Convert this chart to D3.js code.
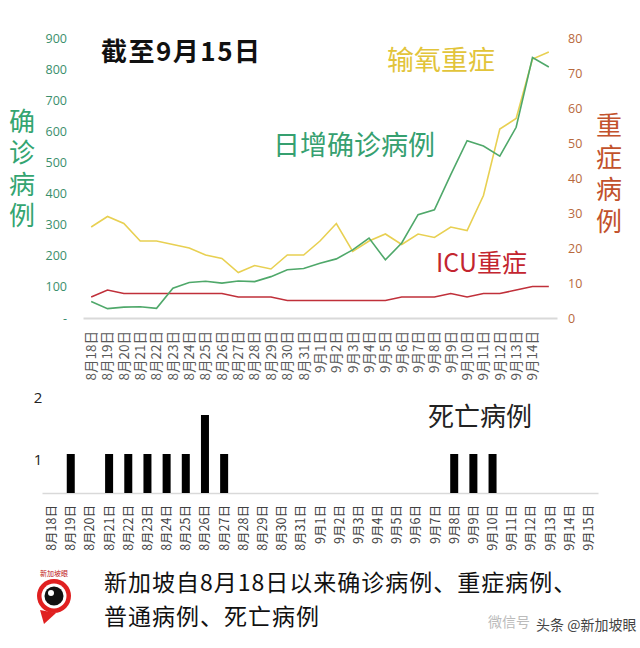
<!DOCTYPE html>
<html>
<head>
<meta charset="utf-8">
<script src="https://cdn.jsdelivr.net/npm/d3@7"></script>
<style>
body{margin:0;background:#fff;}
svg{display:block;}
</style>
</head>
<body>
<script>
var width=640;
var height=648;
var cjk="'Noto Sans CJK SC','Noto Sans',sans-serif";

// dates 8/18 .. 9/15
var dates=["8月18日","8月19日","8月20日","8月21日","8月22日","8月23日","8月24日","8月25日","8月26日","8月27日",
"8月28日","8月29日","8月30日","8月31日","9月1日","9月2日","9月3日","9月4日","9月5日","9月6日",
"9月7日","9月8日","9月9日","9月10日","9月11日","9月12日","9月13日","9月14日","9月15日"];
// daily new cases (left axis)
var confirmed=[53,30,35,36,31,96,114,118,112,119,117,133,155,159,176,190,219,257,187,241,332,348,461,570,553,520,613,837,807];
// needing oxygen (right axis)
var oxygen=[26,29,27,22,22,21,20,18,17,13,15,14,18,18,22,27,19,22,24,21,24,23,26,25,35,54,57,74,76];
// ICU (right axis)
var icu=[6,8,7,7,7,7,7,7,7,6,6,6,5,5,5,5,5,5,5,6,6,6,7,6,7,7,8,9,9];
// deaths
var deaths=[0,1,0,1,1,1,1,1,2,1,0,0,0,0,0,0,0,0,0,0,0,1,1,1,0,0,0,0,0];

var leftTicks=[0,100,200,300,400,500,600,700,800,900];
var rightTicks=[0,10,20,30,40,50,60,70,80];
var deathTicks=[1,2];
var topLabels=dates.slice(0,28);
var footer=["新加坡自8月18日以来确诊病例、重症病例、","普通病例、死亡病例"];

var svg=d3.select("body").append("svg").attr("width",width).attr("height",height);
svg.append("rect").attr("width",width).attr("height",height).attr("fill","#fff");

/* ---------- top chart ---------- */
var x=d3.scaleBand().domain(dates).range([83,557]);
var yL=d3.scaleLinear().domain([0,900]).range([318,38]);
var yR=d3.scaleLinear().domain([0,80]).range([318,38]);
function cx(d,i){return x(dates[i])+x.bandwidth()/2;}

var xAxis=svg.append("g").attr("transform","translate(0,318)")
    .call(d3.axisBottom(x).tickValues(topLabels).tickSize(0).tickSizeOuter(0));
xAxis.select(".domain").attr("stroke","#d9d9d9").attr("stroke-width",2);
xAxis.selectAll("text")
    .attr("transform","rotate(-90)")
    .attr("x",-13).attr("y",0).attr("dy","0.36em")
    .attr("text-anchor","end")
    .attr("font-family",cjk).attr("font-size","13.5px").attr("fill","#595959");

var lAxis=svg.append("g").attr("transform","translate(67,0)")
    .call(d3.axisLeft(yL).tickValues(leftTicks).tickSize(0).tickPadding(0)
        .tickFormat(function(d){return d===0?"-  ":d;}));
lAxis.select(".domain").remove();
lAxis.selectAll("text").attr("font-family","'Open Sans','Noto Sans',sans-serif")
    .attr("font-size","12.5px").attr("fill","#3a8f6c");

var rAxis=svg.append("g").attr("transform","translate(568,0)")
    .call(d3.axisRight(yR).tickValues(rightTicks).tickSize(0).tickPadding(0));
rAxis.select(".domain").remove();
rAxis.selectAll("text").attr("font-family","'Open Sans','Noto Sans',sans-serif")
    .attr("font-size","12.5px").attr("fill","#b8693d");

var lineL=d3.line().x(cx).y(function(d){return yL(d);});
var lineR=d3.line().x(cx).y(function(d){return yR(d);});

svg.append("path").datum(icu).attr("d",lineR).attr("fill","none")
    .attr("stroke","#c0303a").attr("stroke-width",1.6);
svg.append("path").datum(oxygen).attr("d",lineR).attr("fill","none")
    .attr("stroke","#e8d052").attr("stroke-width",1.6);
svg.append("path").datum(confirmed).attr("d",lineL).attr("fill","none")
    .attr("stroke","#4fa86a").attr("stroke-width",1.6);

// titles and labels
svg.append("text").attr("x",101).attr("y",61).text("截至9月15日")
    .attr("font-family",cjk).attr("font-weight","bold").attr("font-size","26px")
    .attr("letter-spacing","1.5px").attr("fill","#111");
svg.append("text").attr("x",387).attr("y",70).text("输氧重症")
    .attr("font-family",cjk).attr("font-size","27px").attr("fill","#e2c43a");
svg.append("text").attr("x",273).attr("y",155).text("日增确诊病例")
    .attr("font-family",cjk).attr("font-size","27px").attr("fill","#36a070");
svg.append("text").attr("x",436).attr("y",272).text("ICU重症")
    .attr("font-family",cjk).attr("font-size","25px").attr("fill","#c3252f");

// vertical axis titles
svg.append("text").attr("x",22).attr("y",108).text("确诊病例")
    .style("writing-mode","vertical-rl").attr("letter-spacing","5.5px")
    .attr("font-family",cjk).attr("font-size","26px").attr("fill","#34a571");
svg.append("text").attr("x",609).attr("y",112).text("重症病例")
    .style("writing-mode","vertical-rl").attr("letter-spacing","6px")
    .attr("font-family",cjk).attr("font-size","26px").attr("fill","#c2522c");

/* ---------- bottom chart: deaths ---------- */
var xb=d3.scaleBand().domain(dates).range([42,598]);
var yb=d3.scaleLinear().domain([0,2]).range([493,415]);
var tickY=d3.scaleLinear().domain([1,2]).range([460,398]);
var barW=8;

var bAxis=svg.append("g").attr("transform","translate(0,493)")
    .call(d3.axisBottom(xb).tickSize(0).tickSizeOuter(0));
bAxis.select(".domain").attr("stroke","#d9d9d9").attr("stroke-width",1.5);
bAxis.selectAll("text")
    .attr("transform","rotate(-90)")
    .attr("x",-12).attr("y",0).attr("dy","0.36em")
    .attr("text-anchor","end")
    .attr("font-family",cjk).attr("font-size","12.5px").attr("fill","#404040");

svg.selectAll(".bar").data(deaths).enter().append("rect")
    .attr("x",function(d,i){return xb(dates[i])+xb.bandwidth()/2-barW/2;})
    .attr("y",function(d){return yb(d);})
    .attr("width",barW)
    .attr("height",function(d){return yb(0)-yb(d);})
    .attr("fill","#000");

svg.selectAll(".dtick").data(deathTicks).enter().append("text")
    .attr("x",38).attr("y",function(d){return tickY(d);}).attr("dy","0.35em")
    .attr("text-anchor","middle").text(function(d){return d;})
    .attr("font-family","'Open Sans','Noto Sans',sans-serif").attr("font-size","15px").attr("fill","#222");

svg.append("text").attr("x",428).attr("y",426).text("死亡病例")
    .attr("font-family",cjk).attr("font-size","26px").attr("fill","#222");

/* ---------- footer ---------- */
var logo=svg.append("g").attr("transform","translate(54,596)");
logo.append("path").attr("d","M-14,14 L-10,28 L2,17 Z").attr("fill","#e02020");
logo.append("circle").attr("r",17).attr("fill","#e02020");
logo.append("circle").attr("r",12.5).attr("fill","#fff");
logo.append("circle").attr("r",9.5).attr("fill","#111");
logo.append("circle").attr("cx",-3).attr("cy",-3).attr("r",3).attr("fill","#fff");
logo.append("text").attr("x",0).attr("y",-20).attr("text-anchor","middle").text("新加坡眼")
    .attr("font-family",cjk).attr("font-size","7px").attr("fill","#c02020");

svg.selectAll(".foot").data(footer).enter().append("text")
    .attr("x",104).attr("y",function(d,i){return 591+i*34;})
    .attr("letter-spacing","1px")
    .attr("font-family",cjk).attr("font-size","23px").attr("fill","#111")
    .text(function(d){return d;});

svg.append("text").attr("x",488).attr("y",627).text("微信号")
    .attr("font-family",cjk).attr("font-size","14px").attr("fill","#bbb");
svg.append("text").attr("x",536).attr("y",630).text("头条 @新加坡眼")
    .attr("font-family",cjk).attr("font-size","14px").attr("fill","#444");
</script>
</body>
</html>
